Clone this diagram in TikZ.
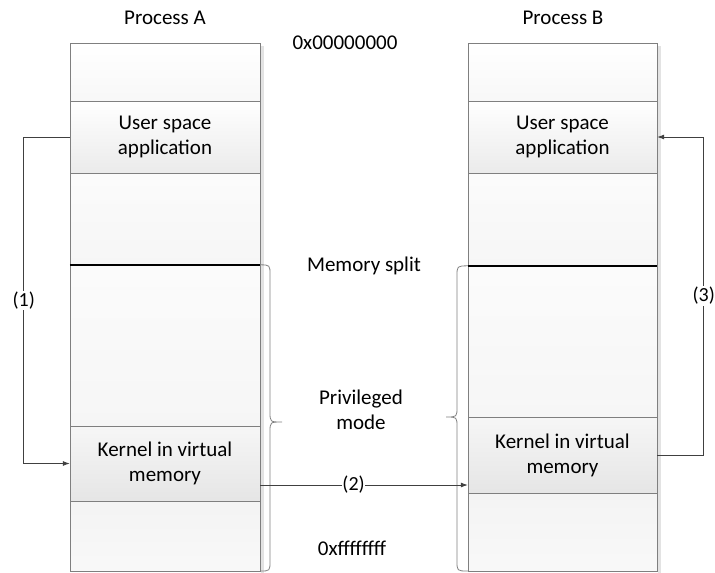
\documentclass[tikz,border=0pt]{standalone}
\usepackage{fontspec}
\setmainfont{Carlito}
\usepackage{tikz}
\usetikzlibrary{arrows.meta}
\definecolor{edgegray}{HTML}{7F7F7F}
\definecolor{linegray}{HTML}{404040}
\tikzstyle{seg} = [draw=edgegray, rectangle, inner sep=0, align=center,
    font=\fontsize{21}{25}\selectfont]
\tikzstyle{segA} = [seg, minimum width=190pt]
\tikzstyle{segB} = [seg, minimum width=189pt]
\tikzstyle{plainseg} = [top color=white, bottom color=gray!6]
\tikzstyle{userseg} = [top color=white, bottom color=gray!16]
\tikzstyle{freeseg} = [top color=gray!3, bottom color=gray!7]
\tikzstyle{kernseg} = [top color=gray!7, bottom color=gray!20]
\tikzstyle{lowseg} = [top color=gray!9, bottom color=gray!5]
\tikzstyle{conn} = [draw=linegray, thick, -{Latex[length=7pt,width=5pt]}]
\tikzstyle{lbl} = [fill=white, inner xsep=0pt, inner ysep=1pt,
    font=\fontsize{20}{24}\selectfont]
\tikzstyle{txt} = [align=center, font=\fontsize{21}{25}\selectfont]
\tikzstyle{brace} = [draw=gray, line width=0.8pt]

\begin{document}
\begin{tikzpicture}[x=1pt, y=-1pt]
\useasboundingbox (0,0) rectangle (715,573);
% shadows
\fill[gray!22] (261,46) rectangle (264,573);
\fill[gray!22] (658,46) rectangle (661,573);
% process A
\node[segA, plainseg, minimum height=58pt] (topA) at (165,72) {};
\node[segA, userseg, minimum height=72pt] (userA) at (165,137) {User space\\application};
\node[segA, freeseg, minimum height=92pt] (midA) at (165,219) {};
\node[segA, freeseg, minimum height=161pt] (freeA) at (165,345.5) {};
\node[segA, kernseg, minimum height=75pt] (kernA) at (165,463.5) {Kernel in virtual\\memory};
\node[segA, lowseg, minimum height=70pt] (botA) at (165,536) {};
% process B
\node[segB, plainseg, minimum height=58pt] (topB) at (562.5,72) {};
\node[segB, userseg, minimum height=72pt] (userB) at (562.5,137) {User space\\application};
\node[segB, freeseg, minimum height=93pt] (midB) at (562.5,219.5) {};
\node[segB, freeseg, minimum height=151pt] (freeB) at (562.5,341.5) {};
\node[segB, kernseg, minimum height=76pt] (kernB) at (562.5,455) {Kernel in virtual\\memory};
\node[segB, lowseg, minimum height=78pt] (botB) at (562.5,532) {};
% memory split
\draw[black, line width=1.6pt] (freeA.north west) -- (freeA.north east);
\draw[black, line width=1.6pt] (freeB.north west) -- (freeB.north east);
% braces
\draw[brace] (freeA.north east) .. controls (270,265) .. (270,275) -- (270,412)
    .. controls (270,422) .. (282,422) .. controls (270,422) .. (270,432)
    -- (270,561) .. controls (270,571) .. (260,571);
\draw[brace] (freeB.north west) .. controls (457,266) .. (457,276) -- (457,407)
    .. controls (457,417) .. (446,417) .. controls (457,417) .. (457,427)
    -- (457,561) .. controls (457,571) .. (468,571);
% texts
\node[txt] (procA) at (165,18) {Process A};
\node[txt] (procB) at (563,18) {Process B};
\node[txt] (lowaddr) at (345,43) {0x00000000};
\node[txt] (split) at (364,266) {Memory split};
\node[txt] (priv) at (361,410) {Privileged\\mode};
\node[txt] (highaddr) at (352,548) {0xffffffff};
% arrows
\draw[conn] (userA.west) -- ++(-46,0) |- node[lbl, pos=0.25] {(1)} (kernA.west);
\draw[conn] (kernA.east |- 0,485) -- node[lbl, pos=0.45] {(2)} (kernB.west |- 0,485);
\draw[conn] (kernB.east) -- ++(46.5,0) |- node[lbl, pos=0.25] {(3)} (userB.east);
\end{tikzpicture}
\end{document}
